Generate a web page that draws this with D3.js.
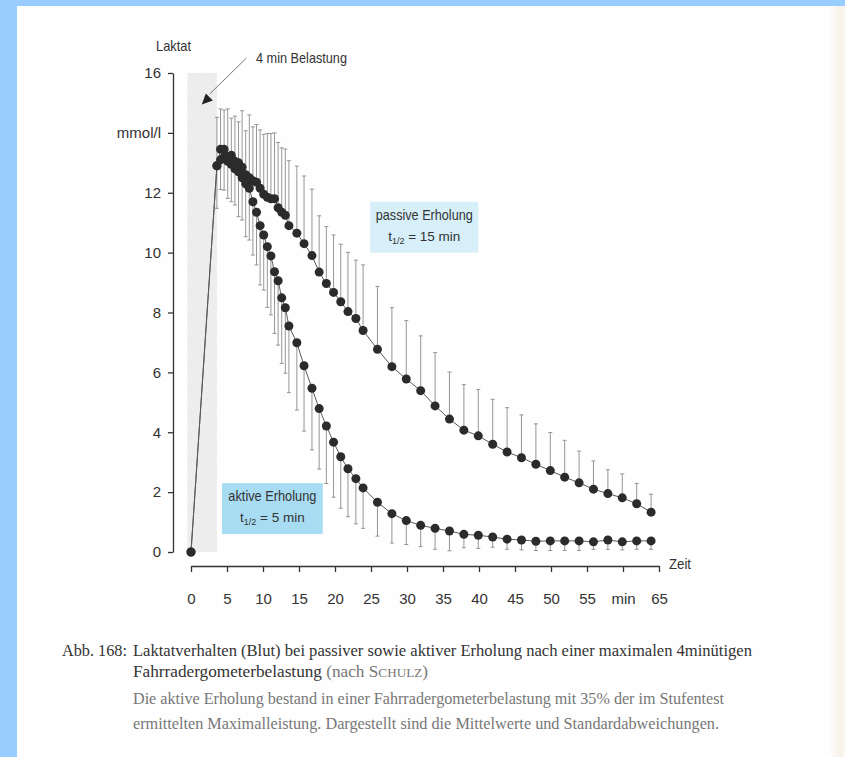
<html lang="de">
<head>
    <meta charset="UTF-8">
    <title>Laktatverhalten</title>
    <script src="https://d3js.org/d3.v7.min.js"></script>
    <style>
        body { margin: 0; background: #ffffff; }
        .chart text { font-family: "Liberation Sans Narrow", "Arial Narrow", "Liberation Sans", sans-serif; fill: #333; }
        .chart .caption { font-family: "Liberation Serif", "DejaVu Serif", serif; }
    </style>
</head>
<body>
<div class="chart"></div>
<script>
    // Zeitpunkte (min) der Messungen
    const times = [3.6, 4.1, 4.6, 5.1, 5.6, 6.1, 6.6, 7.1, 7.6, 8.1, 8.6, 9.1, 9.6, 10.1, 10.6,
        11.1, 11.6, 12.1, 12.6, 13.1, 13.6, 14.7, 15.7, 16.8, 17.8, 18.8, 19.8, 20.8, 21.8, 22.9,
        23.9, 25.9, 27.9, 29.9, 31.9, 33.9, 35.9, 37.9, 39.9, 41.9, 43.9, 45.9, 47.9, 49.9, 51.9,
        53.9, 55.9, 57.9, 59.9, 61.9, 63.9]

    // passive Erholung: Mittelwert und Mittelwert + SD
    const passiveMean = [12.9, 13.45, 13.45, 13.2, 13.25, 13.05, 13.0, 12.85, 12.6, 12.5, 12.4,
        12.35, 12.15, 11.95, 11.85, 11.8, 11.8, 11.5, 11.35, 11.25, 10.9, 10.65, 10.3, 9.9, 9.35,
        8.97, 8.67, 8.36, 8.03, 7.8, 7.4, 6.77, 6.19, 5.78, 5.39, 4.88, 4.44, 4.07, 3.88, 3.6,
        3.34, 3.15, 2.93, 2.72, 2.5, 2.31, 2.1, 1.95, 1.81, 1.61, 1.33]
    const passiveUpper = [14.52, 14.8, 14.76, 14.8, 14.49, 14.56, 14.37, 14.74, 14.07, 14.6, 14.2,
        14.28, 14.1, 13.95, 13.98, 13.98, 14.0, 13.68, 13.5, 13.46, 13.07, 12.89, 12.56, 12.12,
        11.23, 10.87, 10.59, 10.28, 10.01, 9.75, 9.59, 8.87, 8.16, 7.73, 7.22, 6.66, 6.01, 5.59,
        5.43, 5.1, 4.82, 4.58, 4.28, 3.99, 3.73, 3.37, 3.04, 2.75, 2.61, 2.29, 1.93]

    // aktive Erholung: Mittelwert und Mittelwert - SD
    const activeMean = [12.9, 13.1, 13.2, 13.05, 12.95, 12.8, 12.7, 12.5, 12.3, 12.15, 11.7,
        11.35, 10.9, 10.59, 10.2, 9.89, 9.36, 9.06, 8.49, 8.16, 7.55, 6.99, 6.22, 5.47, 4.79,
        4.21, 3.67, 3.18, 2.78, 2.45, 2.14, 1.66, 1.28, 1.05, 0.89, 0.79, 0.7, 0.59, 0.56, 0.5,
        0.43, 0.4, 0.36, 0.37, 0.37, 0.37, 0.34, 0.4, 0.34, 0.37, 0.37]
    const activeLower = [11.48, 12.11, 12.09, 11.81, 11.7, 11.59, 11.2, 11.09, 10.53, 10.42, 9.92,
        9.59, 8.92, 8.75, 8.17, 7.92, 7.3, 6.91, 6.3, 5.97, 5.32, 4.74, 4.04, 3.41, 2.77, 2.29,
        1.83, 1.46, 1.18, 0.94, 0.79, 0.53, 0.3, 0.25, 0.18, 0.09, 0.04, 0.14, 0.12, 0.16, 0.09,
        0.07, 0.05, 0.05, 0.05, 0.05, 0.09, 0.09, 0.07, 0.09, 0.09]

    const startPoint = [0, 0]
    const loadPhase = [-0.5, 3.6]   // 4 min Belastung (grau)
    const yTicks = [0, 2, 4, 6, 8, 10, 12, 14, 16]
    const xTicks = [0, 5, 10, 15, 20, 25, 30, 35, 40, 45, 50, 55, 60, 65]

    const dimensions = { width: 845, height: 757 }

    const svg = d3.select('.chart')
        .append('svg')
        .attr('width', dimensions.width)
        .attr('height', dimensions.height)

    // Seite + Rahmen
    const defs = svg.append('defs')
    const edge = defs.append('linearGradient').attr('id', 'edge')
    edge.append('stop').attr('offset', '0%').attr('stop-color', '#fefefe')
    edge.append('stop').attr('offset', '70%').attr('stop-color', '#f8f2e8')
    edge.append('stop').attr('offset', '100%').attr('stop-color', '#fbf8f2')
    const hatch = defs.append('pattern').attr('id', 'hatch')
        .attr('width', 3).attr('height', 3).attr('patternUnits', 'userSpaceOnUse')
    hatch.append('rect').attr('width', 3).attr('height', 3).attr('fill', '#f1f1f1')
    hatch.append('path').attr('d', 'M0,3L3,0').attr('stroke', '#e2e2e2').attr('stroke-width', 0.8)

    svg.append('rect').attr('width', 845).attr('height', 757).attr('fill', '#fefefe')
    svg.append('rect').attr('x', 829).attr('width', 16).attr('height', 757).attr('fill', 'url(#edge)')
    svg.append('rect').attr('width', 17).attr('height', 757).attr('fill', '#99ccff')
    svg.append('rect').attr('width', 845).attr('height', 6).attr('fill', '#99ccff')

    const xScale = d3.scaleLinear().domain([0, 65]).range([191, 659])
    const yScale = d3.scaleLinear().domain([0, 16]).range([552, 73])

    // Belastungsphase
    svg.append('rect')
        .attr('x', xScale(loadPhase[0]))
        .attr('y', yScale(16))
        .attr('width', xScale(loadPhase[1]) - xScale(loadPhase[0]))
        .attr('height', yScale(0) - yScale(16))
        .attr('fill', 'url(#hatch)')

    // Y Achse
    const yAxis = d3.axisLeft(yScale)
        .tickValues(yTicks)
        .tickFormat(d => d === 14 ? 'mmol/l' : d)
        .tickSize(5)
        .tickSizeOuter(0)
        .tickPadding(7)
    svg.append('g')
        .attr('transform', 'translate(173,0)')
        .call(yAxis)
        .call(g => g.selectAll('path, line').attr('stroke', '#333').attr('stroke-width', 1.3))
        .call(g => g.selectAll('text').attr('font-size', 15).attr('fill', '#333'))
    svg.append('text').attr('x', 156).attr('y', 51).attr('font-size', 15)
        .attr('textLength', 35).attr('lengthAdjust', 'spacingAndGlyphs').text('Laktat')

    // X Achse
    const xAxis = d3.axisBottom(xScale)
        .tickValues(xTicks)
        .tickFormat(d => d === 60 ? 'min' : d)
        .tickSize(6)
        .tickSizeOuter(0)
        .tickPadding(21)
    svg.append('g')
        .attr('transform', 'translate(0,566)')
        .call(xAxis)
        .call(g => g.selectAll('path, line').attr('stroke', '#333').attr('stroke-width', 1.3))
        .call(g => g.selectAll('text').attr('font-size', 15).attr('fill', '#333'))
    svg.append('text').attr('x', 669).attr('y', 569).attr('font-size', 15)
        .attr('textLength', 22).attr('lengthAdjust', 'spacingAndGlyphs').text('Zeit')

    // Standardabweichungen
    function errorBars(cls, means, ends) {
        const g = svg.append('g').attr('stroke', '#8a8a8a').attr('stroke-width', 0.9)
        g.selectAll('line.' + cls)
            .data(times)
            .enter()
            .append('line')
            .attr('x1', d => xScale(d)).attr('x2', d => xScale(d))
            .attr('y1', (d, i) => yScale(means[i]))
            .attr('y2', (d, i) => yScale(ends[i]))
        g.selectAll('line.' + cls + 'cap')
            .data(times)
            .enter()
            .append('line')
            .attr('x1', d => xScale(d) - 2).attr('x2', d => xScale(d) + 2)
            .attr('y1', (d, i) => yScale(ends[i]))
            .attr('y2', (d, i) => yScale(ends[i]))
    }
    errorBars('pas', passiveMean, passiveUpper)
    errorBars('akt', activeMean, activeLower)

    // Kurven
    const line = d3.line().x(d => xScale(d[0])).y(d => yScale(d[1]))
    const passivePts = [startPoint].concat(times.map((t, i) => [t, passiveMean[i]]))
    const activePts = [startPoint].concat(times.map((t, i) => [t, activeMean[i]]))
    ;[passivePts, activePts].forEach(pts => {
        svg.append('path')
            .datum(pts)
            .attr('d', line)
            .attr('fill', 'none')
            .attr('stroke', '#5a5a5a')
            .attr('stroke-width', 1)
        svg.append('g').selectAll('circle')
            .data(pts)
            .enter()
            .append('circle')
            .attr('cx', d => xScale(d[0]))
            .attr('cy', d => yScale(d[1]))
            .attr('r', 4.5)
            .attr('fill', '#2b2b2b')
    })

    // Beschriftungen
    svg.append('text').attr('x', 256).attr('y', 63).attr('font-size', 15)
        .attr('textLength', 91).attr('lengthAdjust', 'spacingAndGlyphs').text('4 min Belastung')
    svg.append('line')
        .attr('x1', xScale(7.7)).attr('y1', yScale(16.5))
        .attr('x2', xScale(2.6)).attr('y2', yScale(15.3))
        .attr('stroke', '#555').attr('stroke-width', 0.8)
    svg.append('path')
        .attr('d', 'M' + xScale(1.5) + ',' + yScale(14.95) + 'L' + (xScale(1.5) + 4) + ',' + (yScale(14.95) - 11)
            + 'L' + (xScale(1.5) + 11) + ',' + (yScale(14.95) - 4) + 'Z')
        .attr('fill', '#222')

    function labelBox(x0, x1, y0, y1, color, title, titleLen, half) {
        svg.append('rect')
            .attr('x', xScale(x0)).attr('y', yScale(y0))
            .attr('width', xScale(x1) - xScale(x0))
            .attr('height', yScale(y1) - yScale(y0))
            .attr('fill', color)
        const cx = (xScale(x0) + xScale(x1)) / 2
        svg.append('text').attr('x', cx - titleLen / 2).attr('y', yScale(y0) + 18)
            .attr('font-size', 15).attr('fill', '#3a4a55')
            .attr('textLength', titleLen).attr('lengthAdjust', 'spacingAndGlyphs').text(title)
        const t = svg.append('text').attr('x', cx).attr('y', yScale(y0) + 39)
            .attr('text-anchor', 'middle').attr('font-size', 13.5)
        t.append('tspan').text('t')
        t.append('tspan').attr('font-size', 9).attr('dy', 3).text('1/2')
        t.append('tspan').attr('dy', -3).text(' = ' + half)
    }
    labelBox(24.9, 39.9, 11.7, 10.0, '#d6eff8', 'passive Erholung', 97, '15 min')
    labelBox(4.3, 18.3, 2.3, 0.6, '#a8dcf2', 'aktive Erholung', 88, '5 min')

    // Bildunterschrift
    const cap = svg.append('g').attr('class', 'caption')
    cap.append('text').attr('class', 'caption').attr('x', 62).attr('y', 656)
        .attr('font-size', 17).attr('textLength', 65).attr('lengthAdjust', 'spacingAndGlyphs')
        .text('Abb. 168:')
    cap.append('text').attr('class', 'caption').attr('x', 133).attr('y', 656)
        .attr('font-size', 17).attr('textLength', 619).attr('lengthAdjust', 'spacingAndGlyphs')
        .text('Laktatverhalten (Blut) bei passiver sowie aktiver Erholung nach einer maximalen 4minütigen')
    const l2 = cap.append('text').attr('class', 'caption').attr('x', 133).attr('y', 677)
        .attr('font-size', 17).attr('textLength', 295).attr('lengthAdjust', 'spacingAndGlyphs')
    l2.append('tspan').text('Fahrradergometerbelastung ')
    l2.append('tspan').style('fill', '#777').text('(nach S')
    l2.append('tspan').style('fill', '#777').attr('font-size', 13).text('CHULZ')
    l2.append('tspan').style('fill', '#777').text(')')
    cap.append('text').attr('class', 'caption').attr('x', 133).attr('y', 704)
        .attr('font-size', 16).attr('textLength', 591).attr('lengthAdjust', 'spacingAndGlyphs')
        .style('fill', '#777')
        .text('Die aktive Erholung bestand in einer Fahrradergometerbelastung mit 35% der im Stufentest')
    cap.append('text').attr('class', 'caption').attr('x', 133).attr('y', 729)
        .attr('font-size', 16).attr('textLength', 586).attr('lengthAdjust', 'spacingAndGlyphs')
        .style('fill', '#777')
        .text('ermittelten Maximalleistung. Dargestellt sind die Mittelwerte und Standardabweichungen.')
</script>
</body>
</html>
